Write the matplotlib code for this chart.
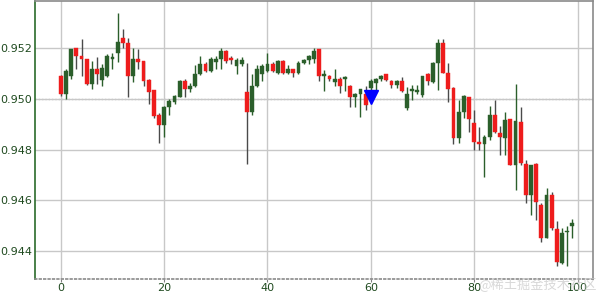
import numpy as np
import matplotlib
matplotlib.use("Agg")
import matplotlib.pyplot as plt

# daily OHLC
opens = [0.95019, 0.95109, 0.95196, 0.95168, 0.95157, 0.95058, 0.95117, 0.95097, 0.95121, 0.95168,
         0.95165, 0.95224, 0.95220, 0.95090, 0.95157, 0.95145, 0.95070, 0.95026, 0.94932, 0.94896,
         0.94967, 0.94991, 0.95011, 0.95070, 0.95038, 0.95050, 0.95097, 0.95137, 0.95109, 0.95157,
         0.95157, 0.95188, 0.95149, 0.95153, 0.95153, 0.95153, 0.94948, 0.95050, 0.95117, 0.95129,
         0.95137, 0.95109, 0.95149, 0.95101, 0.95117, 0.95101, 0.95141, 0.95153, 0.95168, 0.95188,
         0.95090, 0.95097, 0.95078, 0.95078, 0.95050, 0.95086, 0.95007, 0.95019, 0.95038, 0.94975,
         0.95070, 0.95078, 0.95090, 0.95074, 0.95054, 0.95070, 0.95030, 0.95019, 0.95038, 0.95034,
         0.95090, 0.95070, 0.95141, 0.95220, 0.95101, 0.95038, 0.94845, 0.94948, 0.95011, 0.94920,
         0.94829, 0.94821, 0.94849, 0.94936, 0.94869, 0.94849, 0.94916, 0.94738, 0.94912, 0.94746,
         0.94620, 0.94738, 0.94593, 0.94451, 0.94620, 0.94490, 0.94356, 0.94471, 0.94478, 0.94510]
highs = [0.95094, 0.95117, 0.95196, 0.95200, 0.95235, 0.95157, 0.95149, 0.95165, 0.95137, 0.95176,
         0.95180, 0.95338, 0.95275, 0.95239, 0.95200, 0.95196, 0.95149, 0.95078, 0.95034, 0.94944,
         0.94971, 0.94999, 0.95015, 0.95074, 0.95078, 0.95062, 0.95133, 0.95168, 0.95145, 0.95165,
         0.95168, 0.95200, 0.95192, 0.95168, 0.95161, 0.95165, 0.95141, 0.95097, 0.95133, 0.95137,
         0.95180, 0.95145, 0.95153, 0.95153, 0.95133, 0.95117, 0.95149, 0.95157, 0.95172, 0.95200,
         0.95196, 0.95113, 0.95094, 0.95117, 0.95086, 0.95090, 0.95054, 0.95022, 0.95038, 0.95050,
         0.95078, 0.95082, 0.95094, 0.95097, 0.95074, 0.95074, 0.95086, 0.95046, 0.95054, 0.95054,
         0.95090, 0.95101, 0.95145, 0.95235, 0.95235, 0.95141, 0.95046, 0.94995, 0.95015, 0.95007,
         0.94955, 0.94888, 0.94857, 0.94971, 0.94995, 0.94892, 0.94948, 0.94920, 0.95058, 0.94967,
         0.94758, 0.94738, 0.94746, 0.94589, 0.94648, 0.94632, 0.94518, 0.94490, 0.94498, 0.94525]
lows = [0.95011, 0.94999, 0.95078, 0.95117, 0.95090, 0.95054, 0.95038, 0.95058, 0.95050, 0.95086,
        0.95117, 0.95145, 0.95200, 0.95007, 0.95066, 0.95117, 0.95050, 0.94979, 0.94924, 0.94825,
        0.94849, 0.94936, 0.94979, 0.95007, 0.95007, 0.95026, 0.95046, 0.95094, 0.95105, 0.95105,
        0.95117, 0.95117, 0.95141, 0.95137, 0.95097, 0.95129, 0.94742, 0.94936, 0.95046, 0.95070,
        0.95105, 0.95105, 0.95097, 0.95097, 0.95097, 0.95086, 0.95097, 0.95137, 0.95137, 0.95141,
        0.95070, 0.95030, 0.95070, 0.95050, 0.95022, 0.95030, 0.94967, 0.94967, 0.94928, 0.94955,
        0.95026, 0.95026, 0.95070, 0.95070, 0.95042, 0.95042, 0.95026, 0.94955, 0.94995, 0.95019,
        0.95007, 0.95054, 0.95062, 0.95034, 0.95101, 0.94987, 0.94821, 0.94825, 0.94924, 0.94869,
        0.94798, 0.94798, 0.94691, 0.94837, 0.94865, 0.94778, 0.94778, 0.94738, 0.94640, 0.94738,
        0.94589, 0.94541, 0.94521, 0.94435, 0.94451, 0.94482, 0.94340, 0.94348, 0.94340, 0.94451]
closes = [0.95090, 0.95019, 0.95090, 0.95200, 0.95168, 0.95157, 0.95058, 0.95117, 0.95074, 0.95090,
          0.95157, 0.95180, 0.95239, 0.95220, 0.95090, 0.95157, 0.95149, 0.95074, 0.95034, 0.94936,
          0.94896, 0.94967, 0.94987, 0.95007, 0.95070, 0.95038, 0.95050, 0.95097, 0.95137, 0.95109,
          0.95145, 0.95157, 0.95188, 0.95161, 0.95129, 0.95137, 0.95026, 0.94948, 0.95050, 0.95097,
          0.95109, 0.95137, 0.95101, 0.95149, 0.95101, 0.95117, 0.95101, 0.95141, 0.95153, 0.95157,
          0.95196, 0.95090, 0.95090, 0.95066, 0.95078, 0.95078, 0.95050, 0.95007, 0.95019, 0.95019,
          0.95042, 0.95062, 0.95078, 0.95097, 0.95070, 0.95054, 0.95070, 0.94963, 0.95030, 0.95026,
          0.95015, 0.95097, 0.95066, 0.95141, 0.95220, 0.95101, 0.95042, 0.94845, 0.94948, 0.95007,
          0.94904, 0.94829, 0.94821, 0.94849, 0.94936, 0.94865, 0.94845, 0.94920, 0.94738, 0.94908,
          0.94742, 0.94620, 0.94742, 0.94581, 0.94451, 0.94620, 0.94486, 0.94352, 0.94475, 0.94498]

# signal marker
signal_x = [60]
signal_y = [0.95007]

o = np.array(opens)
h = np.array(highs)
l = np.array(lows)
c = np.array(closes)
x = np.arange(len(o))

up_color = "#ee1c1c"
down_color = "#2b5f2b"
colors = np.where(c >= o, up_color, down_color)

plt.rcParams['font.family'] = ['DejaVu Sans', 'Noto Sans CJK SC']

fig = plt.figure(figsize=(6, 2.94), dpi=100)
ax = fig.add_axes([35 / 600, 15 / 294, 558 / 600, 278 / 294])

ax.grid(True, color="#c8c8c8", linewidth=1.0, zorder=0)
ax.axhline(0.950, color="#909090", linestyle=":", linewidth=0.9, zorder=1)

# wicks then bodies
ax.vlines(x, l, h, colors=np.where(c >= o, "#4a4a4a", "#2b5f2b"), linewidth=1.0, zorder=2)
bottom = np.minimum(o, c)
height = np.maximum(np.abs(c - o), 0.00002)
ax.bar(x, height, bottom=bottom, width=0.72, color=colors, edgecolor=colors,
       linewidth=0.3, zorder=3)

ax.plot(signal_x, signal_y, marker="v", color="#0000ff", markersize=10,
        linestyle="none", zorder=4)

ax.set_xlim(-5, 103)
ax.set_ylim(0.94289, 0.95386)
ax.set_xticks([0, 20, 40, 60, 80, 100])
ax.set_yticks([0.944, 0.946, 0.948, 0.950, 0.952])
ax.yaxis.set_major_formatter(matplotlib.ticker.FormatStrFormatter("%.3f"))

label_color = "#1f4a1f"
ax.tick_params(axis="both", labelsize=8, colors="#808080", labelcolor=label_color)
ax.tick_params(axis="x", length=2, pad=1)
ax.tick_params(axis="y", length=0, pad=2)

ax.spines["left"].set_color("#2b6b2b")
ax.spines["left"].set_linewidth(1.2)
for side in ["top", "right", "bottom"]:
    ax.spines[side].set_color("#8a8a8a")
    ax.spines[side].set_linewidth(1.2)
ax.spines["bottom"].set_linestyle(":")

fig.text(0.995, 0.005, "@稀土掘金技术社区", ha="right", va="bottom", fontsize=9.5,
         color="#c8c8c8", alpha=0.7, family=['Noto Sans CJK SC', 'DejaVu Sans'])

fig.savefig("out.png", dpi=100)
